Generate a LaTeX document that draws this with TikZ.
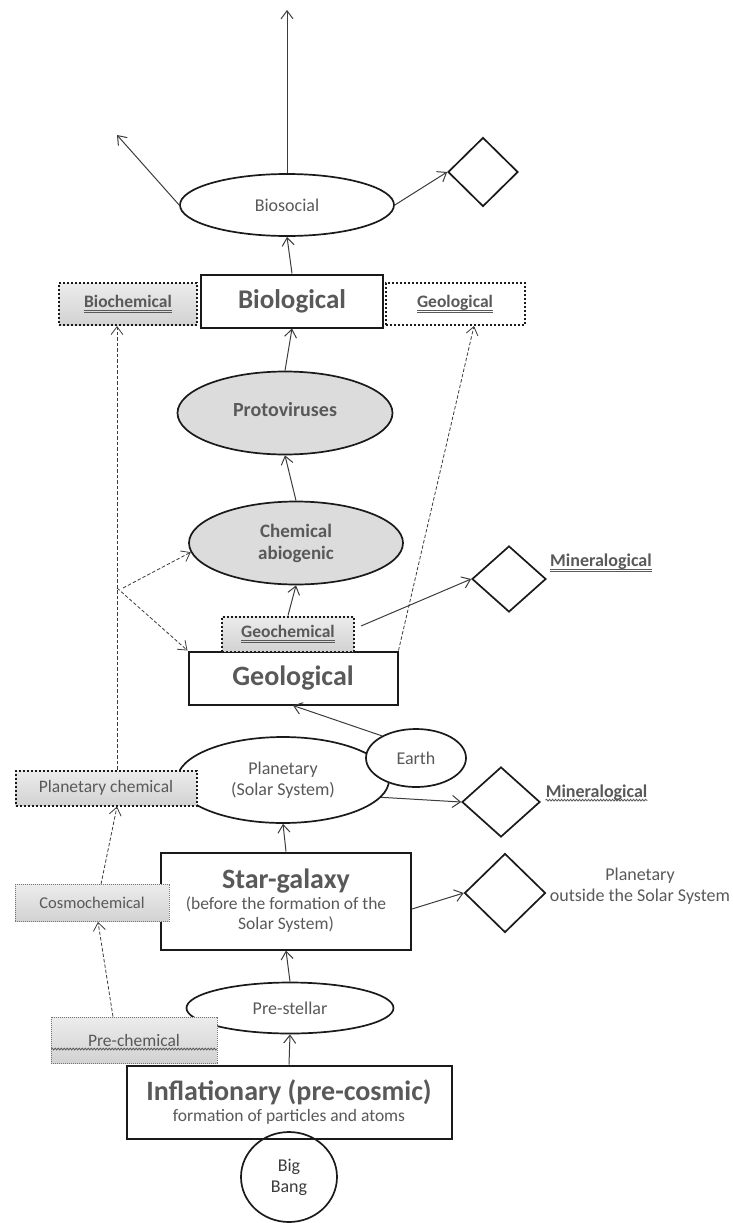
\documentclass[tikz,border=0pt]{standalone}
\usepackage{fontspec}
\setmainfont{Carlito}
\usetikzlibrary{arrows.meta, shapes.geometric, calc, decorations.pathmorphing}
\definecolor{Ink}  {HTML}{1A1A1A}
\definecolor{Wire} {HTML}{3C3C3C}
\definecolor{TextG}{HTML}{595959}
\definecolor{TagT} {HTML}{ECECEC}
\definecolor{TagB} {HTML}{D2D2D2}
\definecolor{OvalF}{HTML}{DCDCDC}
\newcommand\fsBig{\fontsize{28}{32}\selectfont\bfseries}
% double and wavy underlines
\newsavebox\ulbox
\newcommand\dblul[1]{\sbox\ulbox{#1}\dp\ulbox=0pt\leavevmode
  \vtop{\hbox{\usebox\ulbox}\kern2.2pt\hrule height0.8pt\kern1pt\hrule height0.8pt}}
\newcommand\wavyul[1]{\tikz[baseline=(w.base)]{%
  \node[inner sep=0pt] (w) {#1};
  \draw[line width=0.8pt, decorate,
        decoration={snake, amplitude=0.9pt, segment length=3pt}]
    ([yshift=-3pt]w.base west) -- ([yshift=-3pt]w.base east);}}
\tikzset{
  mainbox/.style={
    rectangle, draw=Ink, fill=white, text=TextG,
    line width=2pt, align=center, inner sep=2pt,
    font=\fontsize{17.5}{20}\selectfont,
  },
  oval/.style={
    ellipse, draw=Ink, fill=white, text=TextG,
    line width=1.7pt, align=center, inner sep=0pt,
    font=\fontsize{18}{21}\selectfont,
  },
  grayoval/.style={
    oval, fill=OvalF, font=\fontsize{20}{22}\selectfont\bfseries,
  },
  tag/.style={
    rectangle, draw=Ink, top color=TagT, bottom color=TagB,
    line width=2pt, dash pattern=on 2pt off 2pt,
    text=TextG, inner sep=0pt, font=\fontsize{17.5}{20}\selectfont,
  },
  thintag/.style={
    tag, draw=Ink!60, line width=0.7pt, dash pattern=on 1pt off 1pt,
  },
  dia/.style={
    diamond, draw=Ink, fill=white, line width=1.7pt,
    inner sep=0pt, aspect=1,
  },
  lbl/.style={
    text=TextG, align=center, inner sep=0pt,
    font=\fontsize{18}{21}\selectfont,
  },
  arr/.style={
    -{Straight Barb[length=8pt,width=12pt]},
    line width=1pt, color=Wire,
  },
  darr/.style={
    arr, line width=0.8pt, dash pattern=on 3.5pt off 2pt,
  },
}

\begin{document}
\begin{tikzpicture}[x=1pt,y=-1pt]
  \useasboundingbox (0,0) rectangle (732,1223);

  % main chain, bottom to top
  \node[mainbox, minimum width=325pt, minimum height=73pt] (Infl) at (289,1102)
        {{\fsBig Inflationary (pre-cosmic)}\\[1pt]formation of particles and atoms};
  \node[oval, fill=none, minimum width=96pt, minimum height=90pt, text=Ink!85]
        (Bang) at (289,1177) {Big\\Bang};
  \node[oval, minimum width=207pt, minimum height=51pt] (PreStel) at (290,1008) {Pre-stellar};
  \node[mainbox, minimum width=250pt, minimum height=97pt] (Star) at (286,901)
        {{\fsBig Star-galaxy}\\[1pt](before the formation of the\\Solar System)};
  \node[oval, minimum width=212pt, minimum height=86pt] (Plan) at (283,780)
        {Planetary\\(Solar System)};
  \node[oval, minimum width=100pt, minimum height=58pt] (Earth) at (416,758) {Earth};
  \node[mainbox, minimum width=209pt, minimum height=53pt] (Geo) at (293,678)
        {\fsBig Geological};
  \node[tag, minimum width=132pt, minimum height=35pt] (Geochem) at (288,634)
        {\bfseries\dblul{Geochemical}};
  \node[grayoval, minimum width=214pt, minimum height=83pt, font=\fontsize{19}{22}\selectfont\bfseries]
        (Chem) at (296,543) {Chemical\\abiogenic};
  \node[grayoval, minimum width=215pt, minimum height=83pt] (Proto) at (285,413)
        {\raisebox{8pt}{Protoviruses}};
  \node[mainbox, minimum width=182pt, minimum height=53pt] (Bio) at (292,301)
        {\fontsize{27}{30}\selectfont\bfseries Biological};
  \node[oval, minimum width=214pt, minimum height=62pt] (Soc) at (287,205) {Biosocial};

  % side tags
  \node[tag, minimum width=138pt, minimum height=42pt] (Biochem) at (128,304)
        {\bfseries\dblul{Biochemical}};
  \node[tag, fill=white, top color=white, bottom color=white,
        minimum width=139pt, minimum height=42pt] (GeoTag) at (455,304)
        {\bfseries\dblul{Geological}};
  \node[tag, minimum width=181pt, minimum height=35pt] (PlanChem) at (106,788)
        {Planetary chemical};
  \node[thintag, minimum width=154pt, minimum height=37pt] (Cosmo) at (92,903)
        {\fontsize{16.5}{20}\selectfont Cosmochemical};
  \node[thintag, minimum width=165pt, minimum height=46pt] (Prechem) at (134,1040)
        {\wavyul{Pre-chemical}};

  % diamonds and their labels
  \node[dia, minimum width=70pt, minimum height=69pt] (D1) at (483,172) {};
  \node[dia, minimum width=74pt, minimum height=66pt] (D2) at (509,579) {};
  \node[dia, minimum width=78pt, minimum height=70pt] (D3) at (501,802) {};
  \node[dia, minimum width=81pt, minimum height=79pt] (D4) at (505,893) {};
  \node[lbl, anchor=west] (MinA) at (550,563) {\bfseries\dblul{Mineralogical}};
  \node[lbl, anchor=west] (MinB) at (545,793) {\bfseries\wavyul{Mineralogical}};
  \node[lbl] (Outside) at (640,886) {Planetary\\outside the Solar System};

  \coordinate (TopEnd)  at (287,10);
  \coordinate (LeftEnd) at (117,135);
  \coordinate (Fork)    at (117,588);

  % solid links
  \draw[arr] (Infl.north) -- (PreStel.south);
  \draw[arr] (PreStel.north) -- (Star.south);
  \draw[arr] (Star.north) -- (Plan.south);
  \draw[arr] ($(Star.east)+(0,8)$) -- (D4.west);
  \draw[arr] (Plan.-10) -- (D3.west);
  \draw[arr] (Earth.147) -- (Geo.south);
  \draw[arr] (Geochem.north) -- (Chem.south);
  \draw[arr] ($(Geochem.east)+(6,-8)$) -- (D2.west);
  \draw[arr] (Chem.north) -- (Proto.south);
  \draw[arr] (Proto.north) -- (Bio.south);
  \draw[arr] (Bio.north) -- (Soc.south);
  \draw[arr] (Soc.north) -- (TopEnd);
  \draw[arr] (Soc.west) -- (LeftEnd);
  \draw[arr] (Soc.east) -- (D1.west);

  % dashed links
  \draw[darr] ($(Prechem.north)+(-21,0)$) -- ($(Cosmo.south)+(6,0)$);
  \draw[darr] ($(Cosmo.north)+(9,0)$) -- ($(PlanChem.south)+(11,0)$);
  \draw[darr] (PlanChem.north -| Fork) -- (Biochem.south -| Fork);
  \draw[darr] ($(Fork)+(6,0)$) -- (Chem.185);
  \draw[darr] (Fork) -- (Geo.north west);
  \draw[darr] (Geo.north east) -- ($(GeoTag.south)+(19,0)$);

\end{tikzpicture}
\end{document}
